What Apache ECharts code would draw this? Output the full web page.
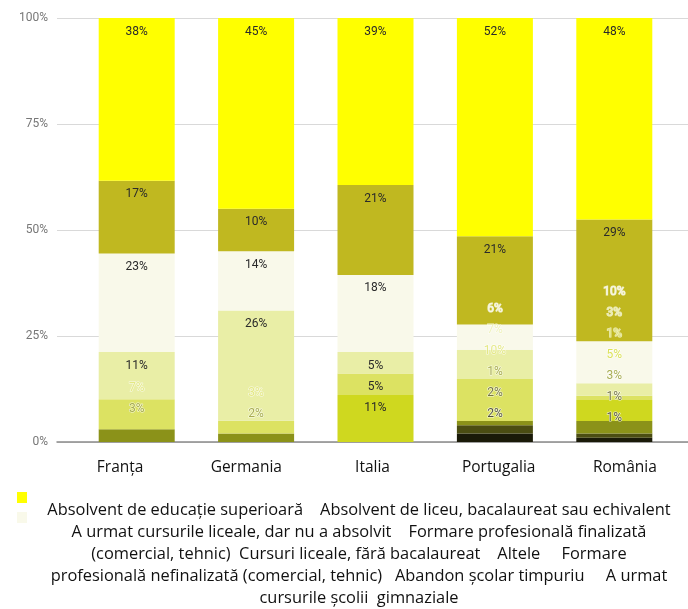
<!DOCTYPE html>
<html>
<head>
<meta charset="utf-8">
<title>Nivel de educație</title>
<script src="https://cdn.jsdelivr.net/npm/echarts@6/dist/echarts.min.js"></script>
<style>
  html, body { margin: 0; padding: 0; background: #fff; }
  #chart { width: 688px; height: 609px; }
</style>
</head>
<body>
<div id="chart"></div>
<script>
  // tari
  const categories = ['Franța', 'Germania', 'Italia', 'Portugalia', 'România'];

  // nume serii (de sus in jos in stiva)
  const seriesNames = [
    'Absolvent de educație superioară',
    'Absolvent de liceu, bacalaureat sau echivalent',
    'A urmat cursurile liceale, dar nu a absolvit',
    'Formare profesională finalizată (comercial, tehnic)',
    'Cursuri liceale, fără bacalaureat',
    'Altele',
    'Formare profesională nefinalizată (comercial, tehnic)',
    'Abandon școlar timpuriu',
    'A urmat cursurile școlii  gimnaziale'
  ];
  const seriesColors = ['#ffff00', '#c0b820', '#f9f9ea', '#e9eea6', '#dce262', '#cfd81f', '#8b9219', '#4b4d12', '#1a1a08'];

  // valori (%) pe tara
  const superioara = [38, 45, 39, 52, 48];
  const liceu = [17, 10, 21, 21, 29];
  const liceuNeabsolvit = [23, 14, 18, 6, 10];
  const profFinalizata = [11, 26, 5, 7, 3];
  const faraBac = [7, 3, 5, 10, 1];
  const altele = [0, 0, 11, 0, 5];
  const profNefinalizata = [3, 2, 0, 1, 3];
  const abandon = [0, 0, 0, 2, 1];
  const gimnaziu = [0, 0, 0, 2, 1];

  const seriesValues = [superioara, liceu, liceuNeabsolvit, profFinalizata, faraBac, altele, profNefinalizata, abandon, gimnaziu];

  // textul legendei, rupt pe randuri ca in original
  const legendLines = [
    seriesNames[0] + '    ' + seriesNames[1],
    seriesNames[2] + '    Formare profesională finalizată',
    '(comercial, tehnic)  ' + seriesNames[4] + '    ' + seriesNames[5] + '     Formare',
    'profesională nefinalizată (comercial, tehnic)   ' + seriesNames[7] + '     A urmat',
    'cursurile școlii  gimnaziale'
  ];

  const PLOT_TOP = 18;
  const PLOT_H = 424;

  // pozitia etichetelor: sus in segment, iar cele care nu incap urca una peste alta
  function labelPlan(ci) {
    const vals = seriesValues.map(s => s[ci]);
    const total = vals.reduce((a, b) => a + b, 0);
    const heights = vals.map(v => v / total * PLOT_H);
    const tops = [];
    let acc = 0;
    heights.forEach(h => { tops.push(acc); acc += h; });
    const plan = [];
    let limit = Infinity;
    for (let i = vals.length - 1; i >= 0; i--) {
      if (!vals[i]) { plan[i] = null; continue; }
      const fits = heights[i] >= 18;
      const natural = fits ? tops[i] + 13.5 : tops[i] - 20;
      const y = Math.min(natural, limit);
      limit = y - 21;
      plan[i] = { offset: y - tops[i], inside: fits && y === natural, total: total };
    }
    return plan;
  }

  const plans = categories.map((c, ci) => labelPlan(ci));

  // echarts stiveaza de jos in sus, deci seriile intra in ordine inversa
  const series = seriesNames.map((name, si) => ({
    name: name,
    type: 'bar',
    stack: 'total',
    xAxisIndex: 1,
    yAxisIndex: 1,
    barWidth: 76,
    itemStyle: { color: seriesColors[si] },
    data: seriesValues[si].map((v, ci) => {
      const p = plans[ci][si];
      if (!p) return { value: 0, label: { show: false } };
      return {
        value: v / p.total * 100,
        label: {
          show: true,
          formatter: v + '%',
          position: ['50%', p.offset],
          align: 'center',
          verticalAlign: 'middle',
          fontFamily: 'Roboto',
          fontSize: 12,
          color: p.inside ? '#2a2a2a' : seriesColors[si],
          opacity: p.inside ? 1 : 0.75,
          textBorderColor: p.inside ? 'transparent' : '#fff',
          textBorderWidth: p.inside ? 0 : 1.2
        }
      };
    })
  })).reverse();

  const chart = echarts.init(document.getElementById('chart'));
  chart.setOption({
    animation: false,
    grid: [
      { left: 57, right: 0, top: PLOT_TOP, height: PLOT_H },
      { left: 77, right: 14, top: PLOT_TOP, height: PLOT_H }
    ],
    xAxis: [
      {
        type: 'category',
        gridIndex: 0,
        data: categories,
        axisTick: { show: false },
        axisLine: { lineStyle: { color: '#8a8a8a', width: 1.5 } },
        axisLabel: { margin: 18, color: '#111', fontFamily: 'Open Sans', fontSize: 15.5 }
      },
      {
        type: 'category',
        gridIndex: 1,
        data: categories,
        show: false
      }
    ],
    yAxis: [
      {
        type: 'value',
        gridIndex: 0,
        min: 0,
        max: 100,
        interval: 25,
        axisLabel: { formatter: '{value}%', color: '#777', fontFamily: 'Roboto', fontSize: 12, margin: 9 },
        splitLine: { lineStyle: { color: '#d9d9d9' } }
      },
      {
        type: 'value',
        gridIndex: 1,
        min: 0,
        max: 100,
        show: false
      }
    ],
    legend: {
      orient: 'vertical',
      left: 12,
      top: 487,
      itemWidth: 10,
      itemHeight: 11,
      itemGap: 9,
      icon: 'rect',
      selectedMode: false,
      data: [seriesNames[0], seriesNames[2]],
      formatter: () => ''
    },
    graphic: [
      {
        type: 'text',
        x: 359,
        y: 499,
        style: {
          text: legendLines.join('\n'),
          align: 'center',
          verticalAlign: 'top',
          lineHeight: 22,
          fontFamily: 'Open Sans',
          fontSize: 16.4,
          fill: '#111'
        }
      }
    ],
    series: series
  });
</script>
</body>
</html>
